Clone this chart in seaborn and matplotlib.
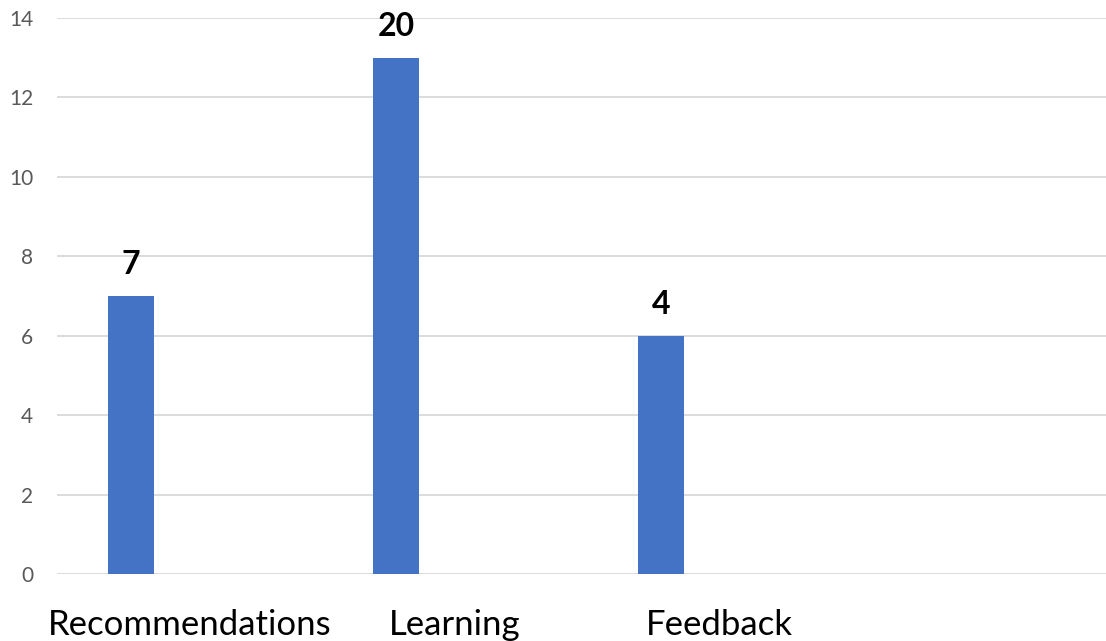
import pandas as pd
import numpy as np

import seaborn as sns
import matplotlib.pyplot as plt

categories = ["Recommendations", "Learning", "Feedback", ""]
bar_values = [7, 13, 6, 0]
empty_values = [0, 0, 0, 0]
bar_labels = ["7", "20", "4", ""]
y_ticks = [0, 2, 4, 6, 8, 10, 12, 14]


def main():
    df = pd.DataFrame({
        "category": categories * 2,
        "value": bar_values + empty_values,
        "series": ["A"] * 4 + ["B"] * 4,
    })

    sns.set_theme(style="white")
    plt.rcParams['font.family'] = ['Lato', 'DejaVu Sans']

    fig = plt.figure(figsize=(11.06, 6.41), dpi=100)
    ax = fig.add_axes([57 / 1106, 1 - 574 / 641, 1060 / 1106, (574 - 18) / 641])

    # second (empty) series keeps the bars on the left side of each slot
    sns.barplot(data=df, x="category", y="value", hue="series",
                order=categories, hue_order=["A", "B"],
                palette=["#4472C4", "#ED7D31"], saturation=1,
                width=0.884, gap=0.6,
                linewidth=0, errorbar=None, legend=False, ax=ax)

    ax.set_ylim(0, 14)
    ax.set_xlim(-0.5, 3.5)
    ax.set_yticks(y_ticks)
    ax.yaxis.grid(True, color="#d9d9d9", linewidth=1.3)
    ax.set_axisbelow(True)
    for s in ax.spines.values():
        s.set_visible(False)

    ax.tick_params(axis="y", labelsize=15, labelcolor="#595959", length=0, pad=17)
    ax.tick_params(axis="x", labelsize=25, labelcolor="black", length=0, pad=25)
    ax.set_xlabel("")
    ax.set_ylabel("")

    ax.bar_label(ax.containers[0], labels=bar_labels, padding=12,
                 fontsize=23, fontweight="bold", color="black")

    fig.savefig("out.png", dpi=100)


if __name__ == "__main__":
    main()
